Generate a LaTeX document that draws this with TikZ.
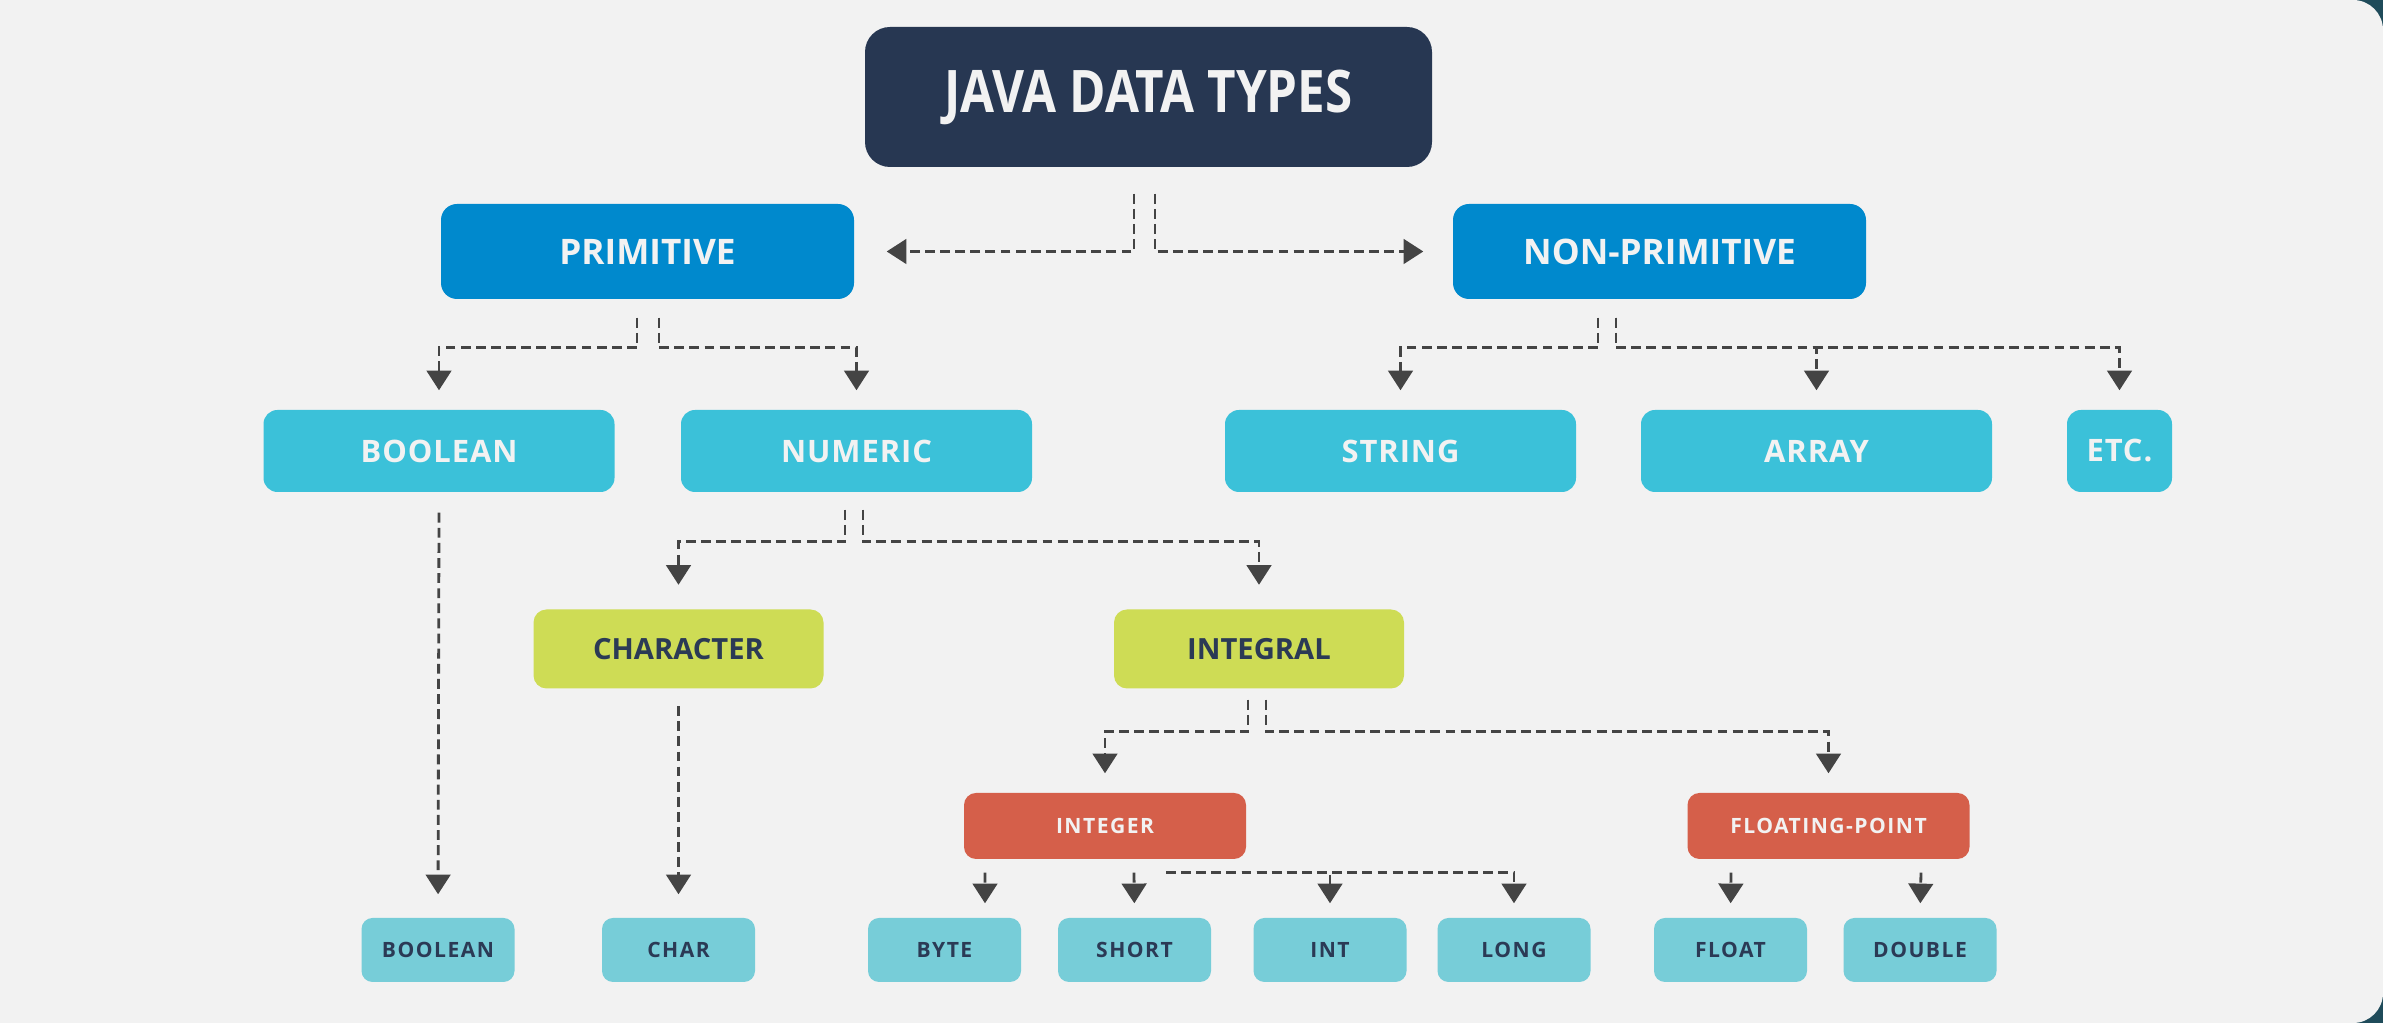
\documentclass[tikz,border=0pt]{standalone}
\usepackage{fontspec}
\setmainfont{Open Sans}
\newfontfamily\serre[FakeStretch=0.84]{Open Sans}
\newfontfamily\espace[LetterSpace=7]{Open Sans}
\newfontfamily\leger[LetterSpace=3]{Open Sans}
\usetikzlibrary{arrows.meta,calc}
\definecolor{fond}{HTML}{F2F2F2}
\definecolor{cadre}{HTML}{1F4B5A}
\definecolor{marine}{HTML}{273752}
\definecolor{bleu}{HTML}{0089CD}
\definecolor{turquoise}{HTML}{3BC1D9}
\definecolor{citron}{HTML}{CEDC55}
\definecolor{brique}{HTML}{D55F4A}
\definecolor{azur}{HTML}{77CDD8}
\definecolor{gris}{HTML}{444444}
\definecolor{encre}{HTML}{2B3A55}

\begin{document}
\begin{tikzpicture}[
  n/.style={inner sep=0pt,align=center},
  n0/.style={n,fill=marine,text=fond,rounded corners=0.25cm,minimum width=5.67cm,minimum height=1.40cm,font=\serre\fontsize{16.7}{18}\bfseries},
  n1/.style={n,fill=bleu,text=fond,rounded corners=0.16cm,minimum width=4.13cm,minimum height=0.95cm,font=\fontsize{10}{12}\bfseries},
  n2/.style={n,fill=turquoise,text=fond,rounded corners=0.14cm,minimum width=3.51cm,minimum height=0.82cm,font=\leger\fontsize{8.8}{10}\bfseries},
  n3/.style={n,fill=citron,text=encre,rounded corners=0.13cm,minimum width=2.90cm,minimum height=0.79cm,font=\fontsize{8.3}{10}\bfseries},
  n4/.style={n,fill=brique,text=fond,rounded corners=0.12cm,minimum width=2.82cm,minimum height=0.66cm,font=\espace\fontsize{6}{7}\bfseries},
  n5/.style={n,fill=azur,text=encre,rounded corners=0.11cm,minimum width=1.53cm,minimum height=0.64cm,font=\espace\fontsize{6}{7}\bfseries},
  f/.style={draw=gris,line width=0.8pt,dash pattern=on 2.8pt off 1.5pt,-{Triangle[length=5.6pt,width=7pt]}}]
  \useasboundingbox (0,0) rectangle (23.83,-10.23);
  \fill[cadre] (23.43,0) rectangle (23.83,-0.4);
  \fill[cadre] (23.43,-9.83) rectangle (23.83,-10.23);
  \fill[fond,rounded corners=0.3cm] (-0.4,0) rectangle (23.83,-10.23);
  % ---- racine
  \node[n0] (titre) at (11.485,-0.97) {JAVA DATA TYPES};
  \node[n1] (prim) at (6.475,-2.515) {PRIMITIVE};
  \node[n1] (nonprim) at (16.595,-2.515) {NON-PRIMITIVE};
  \draw[f,shorten >=3.2mm] ([xshift=-1.45mm,yshift=-2.6mm]titre.south) |- (prim.east);
  \draw[f,shorten >=2.9mm] ([xshift=0.65mm,yshift=-2.6mm]titre.south) |- (nonprim.west);
  % ---- niveau 2
  \node[n2] (bool) at (4.39,-4.51) {BOOLEAN};
  \node[n2] (num) at (8.565,-4.51) {NUMERIC};
  \node[n2] (str) at (14.005,-4.51) {STRING};
  \node[n2] (arr) at (18.165,-4.51) {ARRAY};
  \node[n2,minimum width=1.05cm] (etc) at (21.195,-4.51) {ETC.};
  \draw[f,shorten >=1.9mm] ([xshift=-1.05mm,yshift=-1.8mm]prim.south) -- ++(0,-0.30) -| (bool.north);
  \draw[f,shorten >=1.9mm] ([xshift=1.15mm,yshift=-1.8mm]prim.south) -- ++(0,-0.30) -| (num.north);
  \draw[f,shorten >=1.9mm] ([xshift=-6.15mm,yshift=-1.8mm]nonprim.south) -- ++(0,-0.30) -| (str.north);
  \draw[f,shorten >=1.9mm] ([xshift=-4.35mm,yshift=-1.8mm]nonprim.south) -- ++(0,-0.30) -| (arr.north);
  \draw[f,shorten >=1.9mm] ([xshift=-4.35mm,yshift=-1.8mm]nonprim.south) -- ++(0,-0.30) -| (etc.north);
  % ---- niveau 3
  \node[n3] (char) at (6.785,-6.49) {CHARACTER};
  \node[n3] (integral) at (12.59,-6.49) {INTEGRAL};
  \draw[f,shorten >=2.4mm] ([xshift=-1.15mm,yshift=-1.7mm]num.south) -- ++(0,-0.32) -| (char.north);
  \draw[f,shorten >=2.4mm] ([xshift=0.65mm,yshift=-1.7mm]num.south) -- ++(0,-0.32) -| (integral.north);
  % ---- niveau 4
  \node[n4] (integer) at (11.05,-8.26) {INTEGER};
  \node[n4] (floating) at (18.285,-8.26) {FLOATING-POINT};
  \draw[f,shorten >=1.9mm] ([xshift=-1.1mm,yshift=-1.05mm]integral.south) -- ++(0,-0.32) -| (integer.north);
  \draw[f,shorten >=1.9mm] ([xshift=0.7mm,yshift=-1.05mm]integral.south) -- ++(0,-0.32) -| (floating.north);
  % ---- feuilles
  \node[n5] (bool2) at (4.38,-9.50) {BOOLEAN};
  \node[n5] (charb) at (6.785,-9.50) {CHAR};
  \node[n5] (byte) at (9.445,-9.50) {BYTE};
  \node[n5] (short) at (11.345,-9.50) {SHORT};
  \node[n5] (int) at (13.30,-9.50) {INT};
  \node[n5] (long) at (15.14,-9.50) {LONG};
  \node[n5] (float) at (17.305,-9.50) {FLOAT};
  \node[n5] (double) at (19.20,-9.50) {DOUBLE};
  \draw[f,shorten >=2.3mm] ([yshift=-2mm]bool.south) -- (bool2.north);
  \draw[f,shorten >=2.3mm] ([yshift=-1.7mm]char.south) -- (charb.north);
  \draw[f,shorten >=1.4mm] ([xshift=-12mm,yshift=-1.3mm]integer.south) -- ([xshift=4.05mm]byte.north);
  \draw[f,shorten >=1.4mm] ([xshift=2.9mm,yshift=-1.3mm]integer.south) -- (short.north);
  \draw[f,shorten >=1.4mm] ([xshift=6.1mm,yshift=-1.3mm]integer.south) -| (int.north);
  \draw[f,shorten >=1.4mm] ([xshift=6.1mm,yshift=-1.3mm]integer.south) -| (long.north);
  \draw[f,shorten >=1.4mm] ([xshift=-9.75mm,yshift=-1.3mm]floating.south) -- (float.north);
  \draw[f,shorten >=1.4mm] ([xshift=9.25mm,yshift=-1.3mm]floating.south) -- (double.north);
\end{tikzpicture}
\end{document}
